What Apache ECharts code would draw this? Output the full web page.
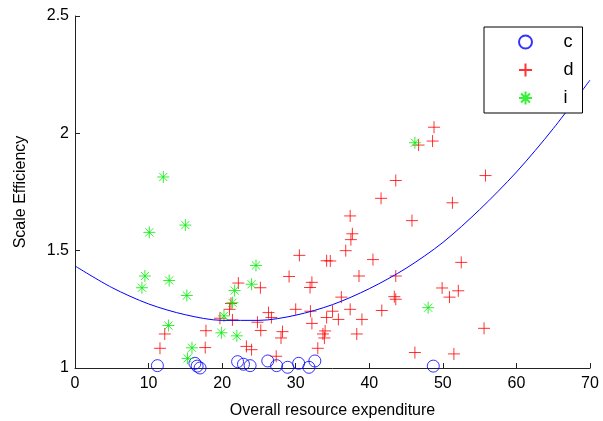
<!DOCTYPE html>
<html>
<head>
<meta charset="utf-8">
<script src="https://cdn.jsdelivr.net/npm/echarts@6/dist/echarts.min.js"></script>
<style>
  html, body { margin: 0; padding: 0; background: #fff; }
  #chart { width: 603px; height: 421px; }
</style>
</head>
<body>
<div id="chart"></div>
<script>
// group c (blue circles)
const cX = [11.2, 16.3, 16.6, 17.0, 22.1, 22.9, 23.8, 26.2, 27.4, 28.9, 30.4, 31.8, 32.6, 48.7]
const cY = [1.01, 1.02, 1.008, 1.0, 1.027, 1.016, 1.01, 1.03, 1.01, 1.003, 1.02, 1.003, 1.03, 1.008]

// group d (red plus)
const dX = [11.55, 12.2, 17.7, 17.8, 19.7, 21.4, 21.0, 21.2, 22.2, 23.3, 24.0, 24.8, 25.25, 25.2,
  26.3, 26.7, 27.35, 28.2, 28.0, 29.1, 30.0, 30.5, 32.2, 31.95, 32.0, 32.2, 33.0, 34.0, 33.9, 33.7,
  34.2, 34.2, 34.7, 35.0, 35.8, 36.2, 36.8, 37.4, 37.4, 37.7, 37.5, 38.3, 38.6, 39.0, 40.5, 41.6,
  41.7, 43.4, 43.6, 43.6, 43.6, 45.8, 46.2, 46.7, 48.6, 48.8, 49.9, 50.9, 51.3, 51.5, 52.1, 52.5,
  55.6, 55.8]
const dY = [1.084, 1.145, 1.087, 1.159, 1.212, 1.205, 1.25, 1.275, 1.362, 1.092, 1.078, 1.195, 1.16, 1.342,
  1.236, 1.215, 1.05, 1.155, 1.128, 1.39, 1.25, 1.48, 1.365, 1.343, 1.242, 1.19, 1.084, 1.158, 1.128, 1.145,
  1.215, 1.457, 1.456, 1.242, 1.207, 1.302, 1.5, 1.25, 1.648, 1.572, 1.547, 1.145, 1.392, 1.207, 1.462, 1.723,
  1.245, 1.304, 1.293, 1.392, 1.799, 1.628, 1.066, 1.95, 1.967, 2.026, 1.341, 1.302, 1.704, 1.06, 1.329, 1.45,
  1.169, 1.82]

// group i (green star)
const iX = [12.0, 15.0, 10.1, 9.5, 12.8, 9.1, 15.2, 12.7, 15.9, 15.3, 19.9, 22.0, 20.25, 21.4, 21.7, 24.6, 24.0, 46.2, 48.0]
const iY = [1.814, 1.609, 1.578, 1.392, 1.373, 1.342, 1.309, 1.181, 1.086, 1.041, 1.15, 1.137, 1.222, 1.278, 1.33, 1.437, 1.357, 1.96, 1.257]

// fitted curve
const fitX = [0, 5, 10, 15, 20, 25, 30, 35, 40, 45, 50, 55, 60, 65, 70]
const fitY = [1.435, 1.343, 1.273, 1.227, 1.203, 1.203, 1.225, 1.27, 1.338, 1.425, 1.535, 1.675, 1.835, 2.02, 2.227]

const pairs = (xs, ys) => xs.map((x, k) => [x, ys[k]])

const font = 'Liberation Sans, Arial, sans-serif'
const plusPath = 'path://M0,5L10,5M5,0L5,10'
const starPath = 'path://M5,0L5,10M0,5L10,5M1.6,1.6L8.4,8.4M8.4,1.6L1.6,8.4'

const axisCommon = {
  axisLine: { lineStyle: { color: '#222', width: 1 } },
  axisTick: { inside: true, length: 5, lineStyle: { color: '#222' } },
  axisLabel: { color: '#000', fontSize: 16, fontFamily: font },
  splitLine: { show: false },
  nameTextStyle: { color: '#000', fontSize: 16, fontFamily: font }
}

const chart = echarts.init(document.getElementById('chart'))
chart.setOption({
  animation: false,
  backgroundColor: '#fff',
  grid: { left: 75, right: 13, top: 16, bottom: 53, outerBoundsMode: 'none' },
  xAxis: {
    ...axisCommon,
    type: 'value',
    min: 0, max: 70, interval: 10,
    name: 'Overall resource expenditure',
    nameLocation: 'middle',
    nameGap: 35,
    axisLabel: { ...axisCommon.axisLabel, margin: 8 }
  },
  yAxis: {
    ...axisCommon,
    type: 'value',
    min: 1, max: 2.5, interval: 0.5,
    name: 'Scale Efficiency',
    nameLocation: 'middle',
    nameGap: 46,
    axisLabel: { ...axisCommon.axisLabel, margin: 6 }
  },
  legend: {
    data: ['c', 'd', 'i'],
    orient: 'vertical',
    left: 484,
    top: 27,
    padding: [6, 9, 6, 34],
    itemWidth: 62,
    itemHeight: 13,
    itemGap: 10,
    backgroundColor: '#fff',
    borderColor: '#000',
    borderWidth: 1,
    z: 10,
    textStyle: { color: '#000', fontSize: 18, fontFamily: font, padding: [0, 0, 0, 2] }
  },
  series: [
    {
      name: 'c',
      type: 'scatter',
      data: pairs(cX, cY),
      symbol: 'circle',
      symbolSize: 12,
      itemStyle: { color: 'transparent', borderColor: '#0000ff', borderWidth: 1 }
    },
    {
      name: 'd',
      type: 'scatter',
      data: pairs(dX, dY),
      symbol: plusPath,
      symbolSize: 12,
      itemStyle: { color: 'transparent', borderColor: '#ff0000', borderWidth: 1 }
    },
    {
      name: 'i',
      type: 'scatter',
      data: pairs(iX, iY),
      symbol: starPath,
      symbolSize: 12,
      itemStyle: { color: 'transparent', borderColor: '#00ee00', borderWidth: 1 }
    },
    {
      name: 'fit',
      type: 'line',
      data: pairs(fitX, fitY),
      smooth: 0.3,
      showSymbol: false,
      lineStyle: { color: '#0000ff', width: 1 }
    }
  ]
})
</script>
</body>
</html>
